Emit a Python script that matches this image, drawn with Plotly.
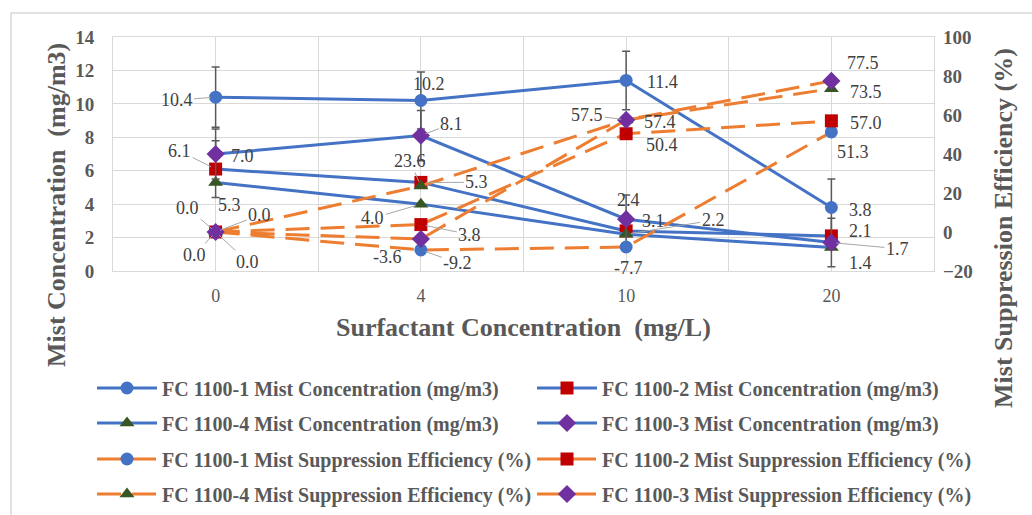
import plotly.graph_objects as go

# ---------------- data ----------------
categories = ["0", "4", "10", "20"]  # Surfactant concentration (mg/L)

conc_1 = [10.4, 10.2, 11.4, 3.8]
conc_2 = [6.1, 5.3, 2.4, 2.1]
conc_3 = [7.0, 8.1, 3.1, 1.7]
conc_4 = [5.3, 4.0, 2.2, 1.4]

eff_1 = [0.0, -9.2, -7.7, 51.3]
eff_2 = [0.0, 3.8, 50.4, 57.0]
eff_3 = [0.0, -3.6, 57.5, 77.5]
eff_4 = [0.0, 23.6, 57.4, 73.5]

err_1 = [1.8, 1.7, 1.75, 1.7]
err_2 = [1.7, 0.0, 0.0, 0.0]
err_3 = [1.5, 1.5, 1.45, 1.45]

x_title = "Surfactant Concentration  (mg/L)"
y_title = "Mist Concentration  (mg/m3)"
y2_title = "Mist Suppression Efficiency (%)"

# ---------------- styles ----------------
BLUE = "#4472C4"
ORANGE = "#ED7D31"
GRID = "#D9D9D9"
TXT = "#595959"
LBL = "#404040"
SERIF = "Liberation Serif, Times New Roman, serif"

xpos = list(range(len(categories)))

markers = {
    "1": dict(symbol="circle", color="#4472C4", size=13),
    "2": dict(symbol="square", color="#C00000", size=13),
    "3": dict(symbol="diamond", color="#7030A0", size=14),
    "4": dict(symbol="triangle-up", color="#375623", size=13),
}

# label offsets (dx, dy in px, leader line)
conc_lbl = {
    "1": [(-39, 3, True), (8, -17, False), (36, 2, False), (29, 3, False)],
    "2": [(-36, -18, True), (56, 0, True), (2, -31, False), (29, -5, False)],
    "3": [(27, 2, False), (31, -12, True), (27, 2, False), (66, 6, True)],
    "4": [(14, 23, False), (-48, 14, True), (87, -14, True), (29, 15, False)],
}
eff_lbl = {
    "1": [(32, 30, True), (37, 13, True), (2, 21, False), (22, 20, False)],
    "2": [(-21, 23, True), (49, 10, True), (36, 11, False), (35, 2, False)],
    "3": [(-28, -24, True), (-33, 18, False), (-39, -5, True), (32, -18, False)],
    "4": [(44, -17, True), (-11, -25, True), (34, 2, False), (35, 3, False)],
}

conc = {"1": conc_1, "2": conc_2, "3": conc_3, "4": conc_4}
eff = {"1": eff_1, "2": eff_2, "3": eff_3, "4": eff_4}
errs = {"1": err_1, "2": err_2, "3": err_3}

order = ["1", "2", "4", "3"]
legends = ["legend", "legend", "legend2", "legend2"]
legends_e = ["legend3", "legend3", "legend4", "legend4"]

fig = go.Figure()

for k, lg in zip(order, legends):
    ekw = {}
    if k in errs:
        ekw["error_y"] = dict(type="data", array=errs[k], symmetric=True,
                              color="#595959", thickness=1.5, width=4)
    fig.add_trace(go.Scatter(
        x=xpos, y=conc[k], mode="lines+markers",
        name=f"FC 1100-{k} Mist Concentration (mg/m3)",
        line=dict(color=BLUE, width=3),
        marker=markers[k], legend=lg, yaxis="y", **ekw))

for k, lg in zip(order, legends_e):
    fig.add_trace(go.Scatter(
        x=xpos, y=eff[k], mode="lines+markers",
        name=f"FC 1100-{k} Mist Suppression Efficiency (%)",
        line=dict(color=ORANGE, width=3, dash="24px,11px"),
        marker=markers[k], legend=lg, yaxis="y2"))

annotations = []


def add_labels(vals, offs, yref):
    for i, (v, (dx, dy, lead)) in enumerate(zip(vals, offs)):
        a = dict(x=xpos[i], y=v, xref="x", yref=yref, text=f"{v:.1f}",
                 font=dict(family=SERIF, size=18, color=LBL))
        if lead:
            a.update(showarrow=True, ax=dx, ay=dy, arrowhead=0, arrowwidth=1,
                     arrowcolor="#A6A6A6", standoff=5)
        else:
            a.update(showarrow=False, xshift=dx, yshift=-dy)
        annotations.append(a)


for k in order:
    add_labels(conc[k], conc_lbl[k], "y")
for k in order:
    add_labels(eff[k], eff_lbl[k], "y2")

L, R, T, B = 113, 98, 37, 244
W, H = 1032, 515
pw, ph = W - L - R, H - T - B


def px_x(px):
    return (px - L) / pw


def px_y(py):
    return (H - B - py) / ph


title_font = dict(family=SERIF, size=26, color=TXT)
annotations += [
    dict(text=f"<b>{x_title}</b>", xref="paper", yref="paper",
         x=px_x(523), y=px_y(327), showarrow=False, font=title_font,
         xanchor="center", yanchor="middle"),
    dict(text=f"<b>{y_title}</b>", xref="paper", yref="paper",
         x=px_x(56), y=px_y(205), showarrow=False, font=title_font,
         textangle=-90, xanchor="center", yanchor="middle"),
    dict(text=f"<b>{y2_title}</b>", xref="paper", yref="paper",
         x=px_x(1003), y=px_y(228), showarrow=False, font=title_font,
         textangle=-90, xanchor="center", yanchor="middle"),
]

legend_common = dict(orientation="h", xanchor="left", yanchor="middle",
                     font=dict(family=SERIF, size=20, color=TXT, weight="bold"),
                     entrywidth=365, entrywidthmode="pixels", itemwidth=60,
                     bgcolor="rgba(0,0,0,0)", x=px_x(92))

fig.update_layout(
    width=W, height=H,
    margin=dict(l=L, r=R, t=T, b=B, autoexpand=False),
    paper_bgcolor="white", plot_bgcolor="white",
    showlegend=True,
    legend=dict(legend_common, y=px_y(388)),
    legend2=dict(legend_common, y=px_y(423)),
    legend3=dict(legend_common, y=px_y(459)),
    legend4=dict(legend_common, y=px_y(494)),
    xaxis=dict(
        range=[-0.5, len(categories) - 0.5], tickmode="array",
        tickvals=xpos, ticktext=categories, showgrid=True, gridcolor=GRID,
        minor=dict(dtick=0.5, tick0=0, showgrid=True, gridcolor=GRID),
        showline=True, linecolor=GRID, mirror=True, zeroline=False,
        tickfont=dict(family=SERIF, size=18, color=TXT),
        ticklabelstandoff=8,
    ),
    yaxis=dict(
        range=[0, 14], dtick=2, showgrid=True, gridcolor=GRID, zeroline=False,
        showline=True, linecolor=GRID, mirror=True,
        tickfont=dict(family=SERIF, size=19, color=TXT, weight="bold"),
        ticklabelstandoff=14,
    ),
    yaxis2=dict(
        range=[-20, 100], dtick=20, overlaying="y", side="right",
        showgrid=False, zeroline=False,
        tickfont=dict(family=SERIF, size=19, color=TXT, weight="bold"),
        ticklabelstandoff=8,
    ),
    annotations=annotations,
    shapes=[dict(type="rect", xref="paper", yref="paper",
                 x0=px_x(11), x1=px_x(1040), y0=px_y(520), y1=px_y(13),
                 line=dict(color=GRID, width=1.5), fillcolor="rgba(0,0,0,0)",
                 layer="below")],
)

fig.write_html("out.html")
